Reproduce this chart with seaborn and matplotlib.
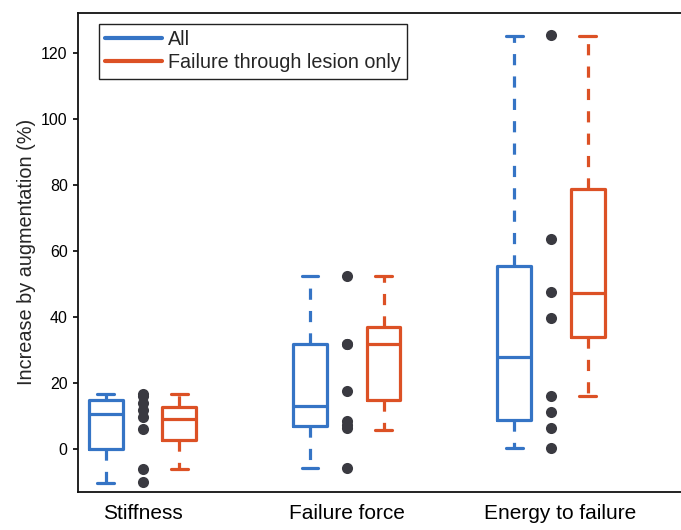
import numpy as np
import pandas as pd
import matplotlib
matplotlib.use("Agg")
import matplotlib.pyplot as plt
import matplotlib.transforms as mtransforms
import seaborn as sns
from matplotlib.lines import Line2D

# ---------------- data ----------------
measures = ["Stiffness", "Failure force", "Energy to failure"]
groups = ["All", "Failure through lesion only"]

# five-number summaries [min, q1, median, q3, max]
all_stiffness = [-10.2, 0.2, 10.8, 15.0, 16.8]
all_force = [-5.7, 7.0, 13.1, 31.8, 52.4]
all_energy = [0.5, 8.9, 28.0, 55.5, 125.3]
lesion_stiffness = [-5.8, 3.0, 9.3, 13.0, 16.7]
lesion_force = [6.0, 15.0, 32.0, 37.0, 52.4]
lesion_energy = [16.1, 34.2, 47.5, 79.0, 125.3]

# individual specimens
pts_stiffness = [16.9, 16.1, 14.1, 11.9, 9.7, 6.3, -5.8, -9.9]
pts_force = [52.5, 32.0, 32.0, 17.6, 8.5, 7.5, 6.5, -5.7]
pts_energy = [125.5, 63.6, 47.6, 39.9, 16.3, 11.3, 6.4, 0.5]

yticks = [0, 20, 40, 60, 80, 100, 120]

blue = "#3574C5"
orange = "#DC5125"
dot_color = "#3a3a41"

# ---------------- tables ----------------
rows = []
for m, a, l in zip(measures,
                   [all_stiffness, all_force, all_energy],
                   [lesion_stiffness, lesion_force, lesion_energy]):
    for v in a:
        rows.append((m, groups[0], v))
    for v in l:
        rows.append((m, groups[1], v))
box_df = pd.DataFrame(rows, columns=["measure", "group", "value"])

prow = []
for m, p in zip(measures, [pts_stiffness, pts_force, pts_energy]):
    for v in p:
        prow.append((m, v))
pts_df = pd.DataFrame(prow, columns=["measure", "value"])

# ---------------- plot ----------------
sns.set_theme(style="ticks")
plt.rcParams["font.family"] = ["Liberation Sans", "DejaVu Sans"]

fig = plt.figure(figsize=(6.81, 5.30), dpi=100)
ax = fig.add_axes([78.3 / 681, 38.3 / 530, 1 - 78.3 / 681, (491.7 - 12.7) / 530])

lw = 2.3
sns.boxplot(data=box_df, x="measure", y="value", hue="group",
            order=measures, hue_order=groups, palette=[blue, orange],
            fill=False, width=0.72, gap=0.54, whis=(0, 100),
            showfliers=False, linewidth=lw,
            whiskerprops=dict(linestyle=(0, (3.5, 3.5)), linewidth=lw),
            capprops=dict(linewidth=lw),
            medianprops=dict(linewidth=lw),
            boxprops=dict(linewidth=lw),
            legend=False, ax=ax)

sns.stripplot(data=pts_df, x="measure", y="value", order=measures,
              jitter=False, color=dot_color, size=8, linewidth=0,
              legend=False, ax=ax, zorder=3)

ax.set_xlim(-0.315, 2.637)
ax.set_ylim(-12.8, 132.3)
ax.set_yticks(yticks)
ax.set_xlabel("")
ax.set_ylabel("Increase by augmentation (%)", fontsize=14.3, labelpad=4)

ax.tick_params(axis="y", direction="out", length=3.6, width=1.2,
               labelsize=11.5, pad=4, color="black", labelcolor="black")
ax.tick_params(axis="x", length=0, labelsize=15, pad=9, labelcolor="black")

# nudge the last category label as in the reference
lab = ax.get_xticklabels()[2]
lab.set_transform(lab.get_transform() +
                  mtransforms.ScaledTranslation(9 / 100, 0, fig.dpi_scale_trans))

for s in ["left", "top", "bottom"]:
    ax.spines[s].set_visible(True)
    ax.spines[s].set_linewidth(1.3)
    ax.spines[s].set_color("#111111")
ax.spines["right"].set_visible(False)

handles = [Line2D([0], [0], color=blue, lw=3),
           Line2D([0], [0], color=orange, lw=3)]
leg = ax.legend(handles, groups, loc="upper left",
                bbox_to_anchor=(0.034, 0.977), borderaxespad=0,
                fontsize=14.2, frameon=True, fancybox=False,
                edgecolor="#222222", framealpha=1, handlelength=2.9,
                handletextpad=0.3, labelspacing=0.22, borderpad=0.32)
leg.get_frame().set_linewidth(1.0)

fig.savefig("out.png", dpi=100)
